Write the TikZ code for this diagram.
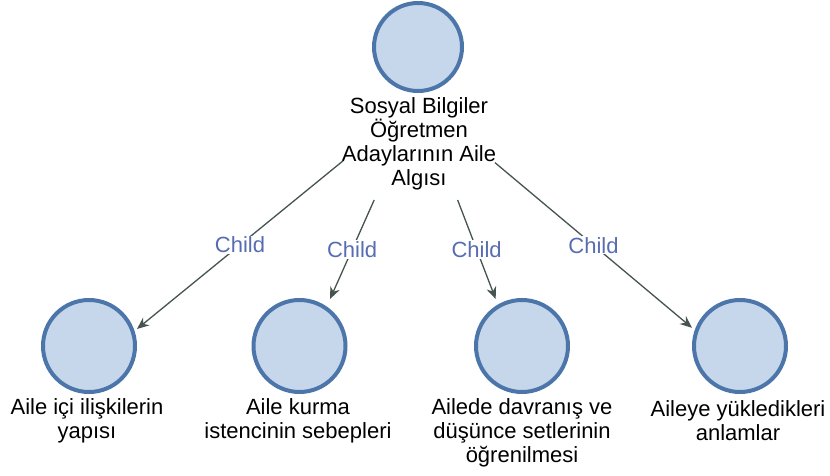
\documentclass[tikz,border=0pt]{standalone}
\usepackage{fontspec}
\setmainfont{Liberation Sans}
\usetikzlibrary{arrows.meta}
\definecolor{cfill}{RGB}{198,214,235}
\definecolor{cdraw}{RGB}{76,118,170}
\definecolor{cedge}{RGB}{70,84,80}
\definecolor{clab}{RGB}{88,108,178}
\begin{document}
\begin{tikzpicture}[x=1pt,y=-1pt,
 circ/.style={circle, draw=cdraw, fill=cfill, line width=4pt, minimum size=92pt, inner sep=0pt},
 box/.style={rectangle, draw=none, inner sep=0pt, outer sep=0pt},
 kidbox/.style={box, minimum width=96pt, minimum height=138pt},
 lbl/.style={align=center, font=\fontsize{22}{24}\selectfont, inner sep=0pt},
 edge/.style={draw=cedge, line width=1.3pt, -{Stealth[length=12pt,width=10pt]}},
 elab/.style={fill=white, text=clab, font=\fontsize{22}{22}\selectfont, inner sep=1pt}]
\useasboundingbox[fill=white] (0,0) rectangle (830,476);
% root
\node[box, minimum width=152pt, minimum height=202pt] (root) at (419,99) {};
\node[circ, minimum size=88pt] (rootc) at (418,47) {};
\node[lbl] (rootl) at (419,144) {Sosyal Bilgiler\\Öğretmen\\Adaylarının Aile\\Algısı};
% children
\node[kidbox] (k1) at (89,368) {};
\node[kidbox] (k2) at (299.5,368) {};
\node[kidbox] (k3) at (522,368) {};
\node[kidbox] (k4) at (740,368) {};
\node[circ] (c1) at (89,346) {};
\node[circ] (c2) at (299.5,346) {};
\node[circ] (c3) at (522,346) {};
\node[circ] (c4) at (740,346) {};
\node[lbl] (l1) at (87,421) {Aile içi ilişkilerin\\yapısı};
\node[lbl] (l2) at (298,421) {Aile kurma\\istencinin sebepleri};
\node[lbl] (l3) at (522,433) {Ailede davranış ve\\düşünce setlerinin\\öğrenilmesi};
\node[lbl] (l4) at (738,421) {Aileye yükledikleri\\anlamlar};
% edges
\draw[edge] (root) -- node[elab] (e1) {Child} (k1);
\draw[edge] (root) -- node[elab] (e2) {Child} (k2);
\draw[edge] (root) -- node[elab] (e3) {Child} (k3);
\draw[edge] (root) -- node[elab] (e4) {Child} (k4);
\end{tikzpicture}
\end{document}
